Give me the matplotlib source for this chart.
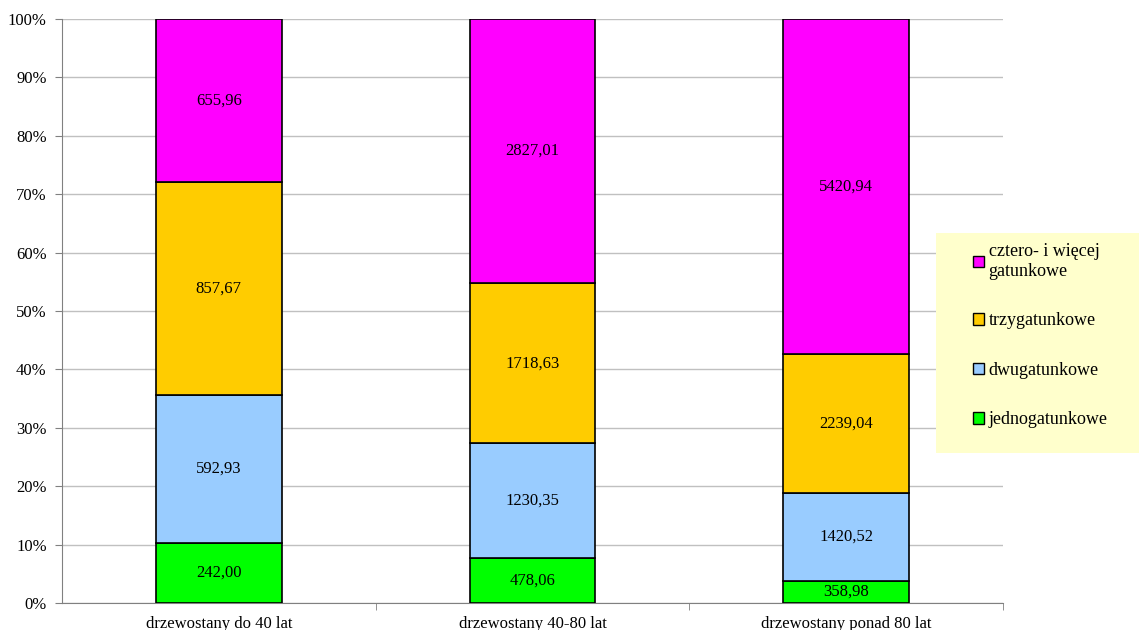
import matplotlib.pyplot as plt
import numpy as np
from matplotlib.patches import Patch, Rectangle

plt.rcParams['font.family'] = ['Liberation Serif', 'DejaVu Serif']

categories = ["drzewostany do 40 lat", "drzewostany 40-80 lat", "drzewostany ponad 80 lat"]
jedno = [242.00, 478.06, 358.98]
dwu = [592.93, 1230.35, 1420.52]
trzy = [857.67, 1718.63, 2239.04]
cztery = [655.96, 2827.01, 5420.94]

series = [
    ("jednogatunkowe", jedno, "#00FF00"),
    ("dwugatunkowe", dwu, "#99CCFF"),
    ("trzygatunkowe", trzy, "#FFCC00"),
    ("cztero- i więcej\ngatunkowe", cztery, "#FF00FF"),
]

totals = np.sum([s[1] for s in series], axis=0)

fig = plt.figure(figsize=(11.39, 6.30), dpi=100)
ax = fig.add_axes([62 / 1139, 27 / 630, 941 / 1139, 584 / 630])

x = np.arange(len(categories))
bottom = np.zeros(len(categories))
for label, vals, color in series:
    pct = np.array(vals) / totals * 100
    ax.bar(x, pct, 0.4, bottom=bottom, color=color, edgecolor="black",
           linewidth=1.2, zorder=3)
    for xi, b, p, v in zip(x, bottom, pct, vals):
        ax.text(xi, b + p / 2, f"{v:.2f}".replace(".", ","), ha="center",
                va="center", fontsize=12, zorder=4)
    bottom += pct

ax.set_xlim(-0.5, 2.5)
ax.set_ylim(0, 100)
ax.set_yticks(np.arange(0, 101, 10))
ax.set_yticklabels([f"{v}%" for v in range(0, 101, 10)], fontsize=12)
ax.yaxis.grid(True, color="#C0C0C0", linewidth=1, zorder=0)
ax.set_xticks(x)
ax.set_xticklabels(categories, fontsize=12)
ax.tick_params(axis="x", length=0, pad=9)
ax.set_xticks([0.5, 1.5, 2.5], minor=True)
ax.tick_params(axis="x", which="minor", length=5, color="#808080")
ax.tick_params(axis="y", length=5, color="#808080", direction="out", pad=6)
for side in ["top", "right"]:
    ax.spines[side].set_visible(False)
ax.spines["left"].set_color("#808080")
ax.spines["bottom"].set_color("#808080")

fig.patches.append(Rectangle((936 / 1139, 177 / 630), 203 / 1139, 220 / 630,
                             transform=fig.transFigure, facecolor="#FFFFCC",
                             edgecolor="none", zorder=0))
handles = [Patch(facecolor=c, edgecolor="black", label=l) for l, _, c in series[::-1]]
leg = fig.legend(handles=handles, loc="upper left", bbox_to_anchor=(966 / 1139, 1 - 236 / 630),
                 frameon=False, fontsize=13, handlelength=0.6, handleheight=0.6,
                 handletextpad=0.25, labelspacing=1.8, borderaxespad=0)
for t in leg.get_texts():
    t.set_linespacing(1.2)

fig.savefig("out.png", dpi=100)
